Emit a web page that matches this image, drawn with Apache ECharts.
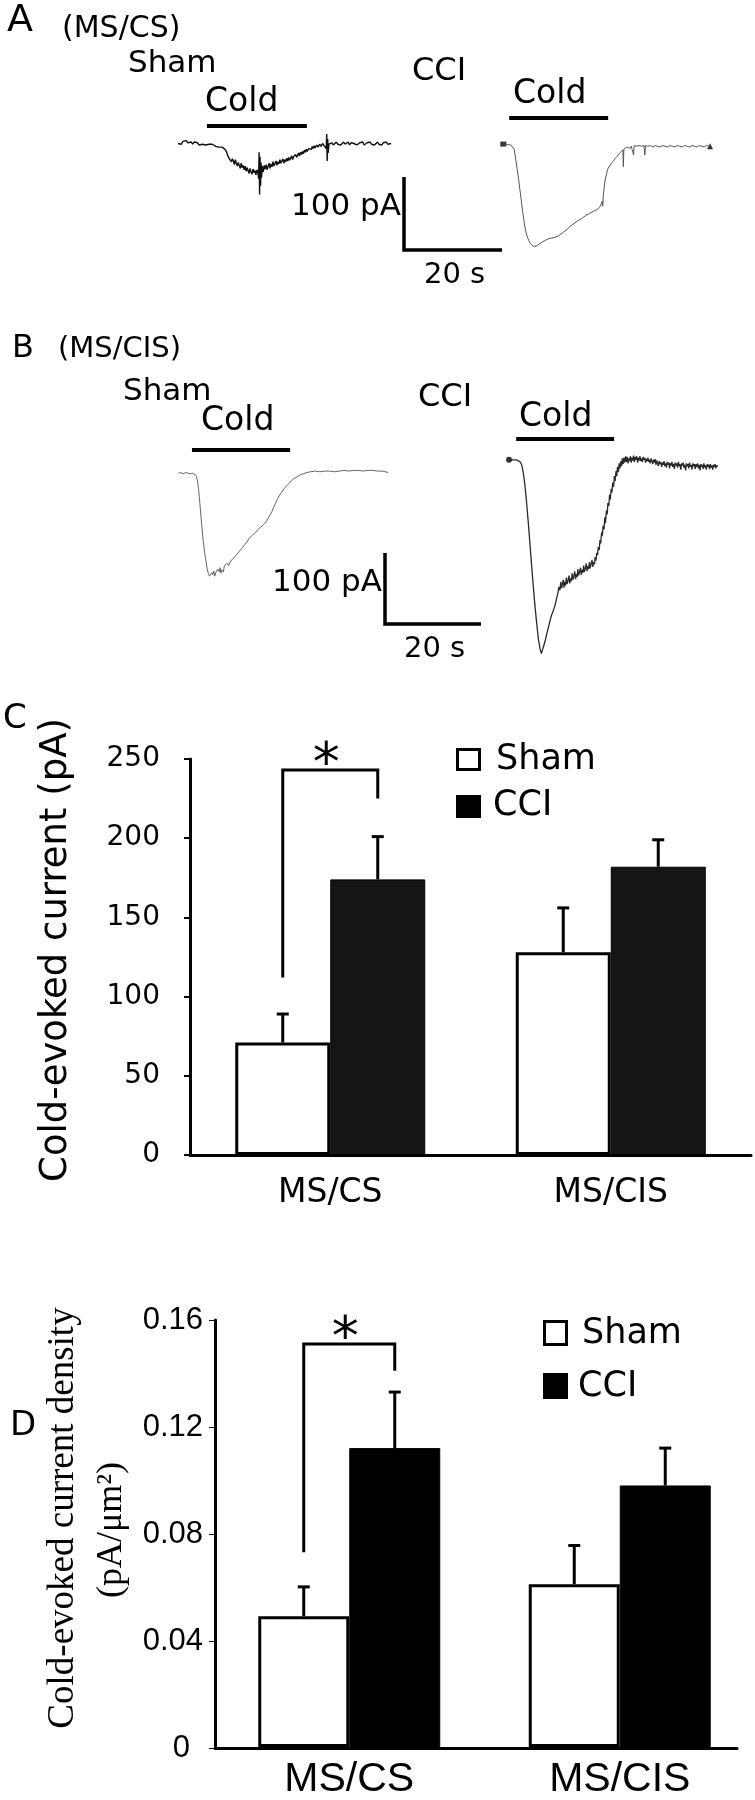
<!DOCTYPE html>
<html><head><meta charset="utf-8">
<script src="https://cdn.jsdelivr.net/npm/echarts@6/dist/echarts.min.js"></script>
<style>html,body{margin:0;padding:0;background:#fff}#c{width:755px;height:1800px}</style>
</head><body><div id="c"></div>
<script>
// ---------------- DATA ----------------
const categories = ['MS/CS', 'MS/CIS'];
const seriesNames = ['Sham', 'CCI'];
// Panel C: cold-evoked current (pA)
const currentTicks = [0, 50, 100, 150, 200, 250];
const currentSham = [71, 128];
const currentShamErr = [18, 28];
const currentCCI = [174, 182];
const currentCCIErr = [27, 17];
const bracketC = [112, 243, 225];          // left foot, top, right foot (pA)
// Panel D: cold-evoked current density (pA/um2)
const densityTicks = [0, 0.04, 0.08, 0.12, 0.16];
const densitySham = [0.049, 0.061];
const densityShamErr = [0.011, 0.0145];
const densityCCI = [0.112, 0.098];
const densityCCIErr = [0.021, 0.014];
const bracketD = [0.073, 0.151, 0.141];
// Panels A/B: traces [time s, current pA]
const traceA_sham = [[0,0],[0.4,2],[0.7,-1],[1.0,3],[1.3,1],[1.7,4],[2.0,1],[2.3,3],[2.7,2],[3.0,-1],[3.3,2],[3.7,0],[4.0,1],[4.3,-2],[4.7,0],[5.0,-1],[5.3,1],[5.7,-2],[6.0,0],[6.3,-1],[6.7,-3],[7.0,-1],[7.3,-2],[7.7,-4],[8.0,-2],[8.3,-5],[8.7,-3],[9.0,-5],[9.3,-4],[9.6,-8],[9.9,-11],[10.1,-16],[10.3,-14],[10.5,-21],[10.7,-19],[10.9,-25],[11.1,-21],[11.3,-24],[11.5,-29],[11.7,-22],[11.9,-27],[12.1,-31],[12.3,-26],[12.5,-30],[12.7,-34],[12.9,-27],[13.1,-33],[13.3,-30],[13.5,-36],[13.7,-31],[13.9,-38],[14.1,-33],[14.3,-35],[14.5,-41],[14.7,-34],[14.9,-39],[15.1,-42],[15.3,-35],[15.5,-40],[15.7,-37],[15.9,-43],[16.1,-36],[16.3,-40],[16.45,-48],[16.55,-12],[16.65,-70],[16.75,-18],[16.85,-58],[16.95,-26],[17.05,-47],[17.2,-31],[17.4,-39],[17.6,-30],[17.8,-35],[18.0,-29],[18.2,-36],[18.4,-31],[18.6,-27],[18.8,-34],[19.0,-28],[19.2,-32],[19.4,-25],[19.6,-31],[19.8,-27],[20.0,-24],[20.2,-30],[20.4,-25],[20.6,-28],[20.8,-22],[21.0,-27],[21.2,-24],[21.4,-21],[21.6,-27],[21.8,-22],[22.0,-25],[22.2,-20],[22.4,-24],[22.6,-19],[22.8,-23],[23.0,-21],[23.2,-17],[23.4,-22],[23.6,-18],[23.8,-20],[24.0,-15],[24.2,-19],[24.4,-16],[24.6,-13],[24.8,-17],[25.0,-12],[25.2,-15],[25.4,-11],[25.6,-14],[25.8,-9],[26.0,-12],[26.2,-8],[26.4,-11],[26.6,-7],[26.8,-9],[27.0,-5],[27.2,-8],[27.4,-4],[27.6,-7],[27.8,-3],[28.0,-6],[28.3,-2],[28.6,-5],[28.9,-1],[29.2,-4],[29.5,0],[29.8,-3],[30.1,-1],[30.25,-7],[30.35,13],[30.45,-24],[30.55,6],[30.65,-13],[30.8,-1],[31.1,-3],[31.4,1],[31.7,-2],[32.0,0],[32.3,2],[32.6,-1],[32.9,1],[33.2,-2],[33.5,0],[33.8,2],[34.1,-1],[34.4,0],[34.7,2],[35.0,-2],[35.3,1],[35.6,-1],[35.9,0],[36.2,2],[36.5,-2],[36.8,0],[37.1,1],[37.4,-1],[37.7,2],[38.0,-2],[38.3,0],[38.6,1],[38.9,-1],[39.2,2],[39.5,-1],[39.8,1],[40.1,-2],[40.4,0],[40.7,2],[41.0,-1],[41.3,1],[41.6,-2],[41.9,1],[42.2,0],[42.5,2],[42.8,-1],[43.1,1],[43.5,0]];
const traceA_cci = [[0,1],[0.5,1],[1.0,0],[1.5,0],[1.9,-1],[2.2,-6],[2.5,-18],[2.8,-32],[3.1,-46],[3.4,-62],[3.7,-78],[4.0,-94],[4.3,-108],[4.6,-119],[4.9,-126],[5.2,-131],[5.5,-135],[5.8,-137],[6.1,-139],[6.4,-141],[6.7,-139],[7.0,-138],[7.3,-136],[7.6,-136],[8.0,-133],[8.4,-132],[8.8,-130],[9.2,-131],[9.6,-128],[10.0,-127],[10.4,-127],[10.8,-125],[11.2,-125],[11.6,-123],[12.0,-121],[12.4,-119],[12.8,-117],[13.2,-115],[13.6,-112],[14.0,-111],[14.4,-108],[14.8,-107],[15.2,-104],[15.6,-103],[16.0,-101],[16.4,-99],[16.8,-97],[17.2,-96],[17.6,-94],[18.0,-93],[18.4,-91],[18.8,-90],[19.1,-89],[19.4,-87],[19.7,-85],[20.0,-81],[20.2,-77],[20.3,-84],[20.4,-70],[20.6,-58],[20.8,-48],[21.0,-42],[21.2,-36],[21.4,-32],[21.7,-29],[22.0,-26],[22.4,-23],[22.8,-19],[23.2,-16],[23.5,-14],[23.8,-11],[24.1,-9],[24.4,-7],[24.5,-30],[24.6,-6],[24.9,-4],[25.2,-3],[25.5,-2],[25.8,-5],[26.1,-2],[26.5,-1],[26.6,-14],[26.7,-1],[27.2,-2],[27.7,-1],[28.2,-2],[28.7,-1],[28.9,-14],[29.0,-1],[29.5,-2],[30.0,-1],[30.5,-3],[31.0,-1],[31.5,-2],[32.0,-3],[32.5,-1],[33.0,-2],[33.5,-3],[34.0,-1],[34.5,-2],[35.0,-3],[35.5,-1],[36.0,-2],[36.5,-3],[37.0,-1],[37.5,-2],[38.0,-3],[38.5,-1],[39.0,-2],[39.5,-3],[40.0,-1],[40.5,-2],[41.0,-3],[41.5,-1],[42.2,-2]];
const traceB_sham = [[0,-1],[0.5,0],[1.0,-2],[1.5,0],[2.0,-1],[2.5,-2],[3.0,-1],[3.4,-2],[3.7,-4],[4.0,-12],[4.2,-22],[4.45,-40],[4.7,-60],[4.95,-79],[5.2,-97],[5.5,-113],[5.8,-126],[6.0,-135],[6.25,-142],[6.5,-146],[6.75,-147],[7.0,-141],[7.2,-144],[7.4,-139],[7.6,-146],[7.8,-141],[8.0,-143],[8.2,-136],[8.5,-140],[8.7,-134],[8.9,-142],[9.1,-137],[9.4,-140],[9.6,-131],[9.9,-133],[10.2,-128],[10.5,-131],[10.8,-126],[11.1,-125],[11.4,-121],[11.7,-122],[12.0,-117],[12.3,-117],[12.6,-112],[12.9,-111],[13.2,-107],[13.5,-106],[13.9,-101],[14.3,-98],[14.7,-93],[15.1,-91],[15.5,-88],[16.0,-85],[16.5,-81],[17.0,-78],[17.5,-75],[18.0,-72],[18.5,-67],[19.0,-61],[19.5,-55],[19.8,-50],[20.2,-44],[20.6,-38],[21.0,-33],[21.5,-28],[22.0,-23],[22.5,-19],[23.0,-16],[23.5,-12],[24.0,-9],[24.5,-7],[25.0,-5],[25.5,-3],[26.0,-2],[26.75,0],[27.5,1],[28.5,2],[29.5,1],[30.5,2],[31.5,2],[32.5,1],[33.5,2],[34.5,3],[35.5,2],[36.5,3],[37.5,3],[38.5,2],[39.5,3],[40.5,3],[41.5,2],[42.5,2],[43.75,0]];
const traceB_cci = [[0,1],[0.4,0],[0.8,1],[1.2,-1],[1.6,1],[1.9,0],[2.3,-2],[2.65,-6],[3.0,-18],[3.3,-34],[3.65,-58],[4.0,-86],[4.35,-116],[4.7,-147],[5.05,-176],[5.4,-204],[5.75,-228],[6.1,-250],[6.45,-265],[6.75,-272],[7.1,-264],[7.5,-255],[7.8,-246],[8.1,-238],[8.5,-227],[8.8,-219],[9.2,-212],[9.6,-204],[9.9,-195],[10.2,-186],[10.4,-178],[10.6,-183],[10.8,-171],[10.95,-180],[11.1,-175],[11.3,-168],[11.45,-179],[11.6,-171],[11.8,-176],[11.95,-165],[12.1,-174],[12.3,-169],[12.5,-162],[12.65,-173],[12.8,-166],[13.0,-170],[13.15,-159],[13.3,-168],[13.5,-163],[13.7,-156],[13.85,-167],[14.0,-160],[14.2,-164],[14.35,-153],[14.5,-162],[14.7,-157],[14.9,-151],[15.05,-161],[15.2,-154],[15.4,-158],[15.55,-148],[15.7,-157],[15.9,-152],[16.1,-145],[16.25,-156],[16.4,-149],[16.6,-153],[16.75,-143],[16.9,-152],[17.1,-146],[17.3,-140],[17.45,-150],[17.6,-143],[17.8,-146],[17.95,-136],[18.1,-141],[18.3,-130],[18.45,-133],[18.6,-122],[18.8,-126],[18.95,-112],[19.1,-117],[19.3,-101],[19.45,-106],[19.6,-92],[19.8,-97],[19.95,-80],[20.1,-88],[20.3,-70],[20.45,-76],[20.6,-60],[20.8,-64],[20.95,-48],[21.1,-55],[21.3,-40],[21.45,-45],[21.6,-31],[21.8,-37],[21.95,-22],[22.1,-29],[22.3,-15],[22.45,-22],[22.6,-9],[22.8,-16],[22.95,-4],[23.1,-11],[23.3,-1],[23.45,-8],[23.6,3],[23.8,-5],[23.95,4],[24.1,-3],[24.3,6],[24.45,-2],[24.6,5],[24.8,-4],[24.95,3],[25.1,-1],[25.3,6],[25.45,-3],[25.6,4],[25.8,0],[25.95,7],[26.1,-2],[26.3,5],[26.45,1],[26.6,6],[26.8,-3],[26.95,4],[27.1,0],[27.3,6],[27.45,-1],[27.6,3],[27.8,-2],[27.95,5],[28.1,1],[28.3,4],[28.45,-3],[28.6,2],[28.8,-1],[28.95,4],[29.1,-2],[29.3,1],[29.45,-4],[29.6,3],[29.8,-1],[29.95,-5],[30.1,1],[30.3,-3],[30.45,2],[30.6,-6],[30.8,0],[30.95,-4],[31.1,-8],[31.3,-1],[31.45,-5],[31.6,-2],[31.8,-9],[31.95,-3],[32.1,-6],[32.3,-1],[32.45,-8],[32.6,-4],[32.8,-10],[32.95,-2],[33.1,-6],[33.3,-3],[33.45,-11],[33.6,-4],[33.8,-7],[33.95,-2],[34.1,-9],[34.3,-5],[34.45,-12],[34.6,-3],[34.8,-7],[34.95,-4],[35.1,-10],[35.3,-2],[35.45,-8],[35.6,-5],[35.8,-13],[35.95,-4],[36.1,-7],[36.3,-3],[36.45,-10],[36.6,-6],[36.8,-14],[36.95,-4],[37.1,-8],[37.3,-5],[37.45,-11],[37.6,-3],[37.8,-9],[37.95,-6],[38.1,-13],[38.3,-4],[38.45,-8],[38.6,-5],[38.8,-12],[38.95,-5],[39.1,-9],[39.3,-4],[39.45,-11],[39.6,-6],[39.8,-14],[39.95,-5],[40.1,-9],[40.3,-6],[40.45,-12],[40.6,-4],[40.8,-10],[40.95,-7],[41.1,-13],[41.3,-5],[41.45,-9],[41.6,-6],[41.8,-12],[41.95,-5],[42.1,-10],[42.3,-7],[42.45,-13],[42.6,-6],[42.8,-9],[42.95,-5],[43.1,-11],[43.3,-7],[43.5,-8]];
// cold stimulus windows [start s, end s]
const coldA_sham = [5.9, 26.3];
const coldA_cci = [1.2, 21.4];
const coldB_sham = [2.85, 23.3];
const coldB_cci = [1.5, 21.9];
// scale bar [s, pA]
const scaleBar = [20, 100];

// ---------------- LAYOUT ----------------
const SANS = '"DejaVu Sans"';
const ARIAL = '"Liberation Sans"';
const SERIF = '"Liberation Serif"';
const T_MAX = 44, I_MIN = -300, I_MAX = 60;
const traceLayout = [
  {ox: 178, oy: 143.5, pxs: 4.9, pxa: 0.73, coldY: 126, color: '#111', w: 1.4},
  {ox: 503.3, oy: 144.8, pxs: 4.9, pxa: 0.73, coldY: 118, color: '#555', w: 1},
  {ox: 178.3, oy: 472.5, pxs: 4.8, pxa: 0.71, coldY: 450, color: '#666', w: 1},
  {ox: 509, oy: 460.5, pxs: 4.8, pxa: 0.71, coldY: 439, color: '#2a2a2a', w: 1.3}
];
const traces = [traceA_sham, traceA_cci, traceB_sham, traceB_cci];
const colds = [coldA_sham, coldA_cci, coldB_sham, coldB_cci];
const scaleCorners = [{grid: 0, x: 404, y: 250}, {grid: 2, x: 385, y: 624}];

const BW_C = 95, BW_D = 91;

const grids = [], xAxes = [], yAxes = [], series = [];
traceLayout.forEach((L, i) => {
  grids.push({left: L.ox, top: L.oy - I_MAX * L.pxa, width: T_MAX * L.pxs, height: (I_MAX - I_MIN) * L.pxa});
  xAxes.push({type: 'value', gridIndex: i, min: 0, max: T_MAX, show: false});
  yAxes.push({type: 'value', gridIndex: i, min: I_MIN, max: I_MAX, show: false});
  series.push({type: 'line', xAxisIndex: i, yAxisIndex: i, data: traces[i], showSymbol: false,
    lineStyle: {color: L.color, width: L.w}, silent: true});
  series.push({type: 'custom', xAxisIndex: i, yAxisIndex: i, data: [colds[i]], silent: true,
    renderItem: (p, api) => {
      const x1 = api.coord([api.value(0), 0])[0], x2 = api.coord([api.value(1), 0])[0];
      return {type: 'line', shape: {x1, y1: L.coldY, x2, y2: L.coldY}, style: {stroke: '#000', lineWidth: 4}};
    }});
});
// start / end markers of recordings
series.push({type: 'scatter', xAxisIndex: 1, yAxisIndex: 1, data: [traceA_cci[0]], symbol: 'rect', symbolSize: [6, 5], itemStyle: {color: '#000'}, silent: true});
series.push({type: 'scatter', xAxisIndex: 1, yAxisIndex: 1, data: [traceA_cci[traceA_cci.length - 1]], symbol: 'triangle', symbolSize: 6, itemStyle: {color: '#000'}, silent: true});
series.push({type: 'scatter', xAxisIndex: 3, yAxisIndex: 3, data: [traceB_cci[0]], symbol: 'circle', symbolSize: 6, itemStyle: {color: '#000'}, silent: true});
// scale bars
scaleCorners.forEach(S => {
  series.push({type: 'custom', xAxisIndex: S.grid, yAxisIndex: S.grid, data: [scaleBar], silent: true,
    renderItem: (p, api) => {
      const sz = api.size([api.value(0), api.value(1)]);
      return {type: 'polyline', shape: {points: [[S.x, S.y - sz[1]], [S.x, S.y], [S.x + sz[0], S.y]]},
        style: {stroke: '#000', lineWidth: 3.5, fill: null}};
    }});
});

// Panel C grid (index 4)
grids.push({left: 190, top: 759, width: 561, height: 396});
xAxes.push({type: 'category', gridIndex: 4, data: categories,
  axisLine: {lineStyle: {color: '#000', width: 3}}, axisTick: {show: false},
  axisLabel: {fontFamily: SANS, fontSize: 33, color: '#000', margin: 22}});
yAxes.push({type: 'value', gridIndex: 4, min: currentTicks[0], max: currentTicks[currentTicks.length - 1],
  interval: currentTicks[1] - currentTicks[0], splitLine: {show: false},
  axisLine: {show: true, lineStyle: {color: '#000', width: 3}},
  axisTick: {show: true, length: 6, lineStyle: {color: '#000', width: 2}},
  axisLabel: {fontFamily: SANS, fontSize: 28, color: '#000', margin: 30}});
// Panel D axis grid (index 5) and bars grid (index 6)
grids.push({left: 215, top: 1320, width: 522, height: 428});
xAxes.push({type: 'category', gridIndex: 5, data: categories, axisLine: {lineStyle: {color: '#000', width: 3}},
  axisTick: {show: false}, axisLabel: {show: false}});
yAxes.push({type: 'value', gridIndex: 5, min: densityTicks[0], max: densityTicks[densityTicks.length - 1],
  interval: densityTicks[1] - densityTicks[0], splitLine: {show: false},
  axisLine: {show: true, lineStyle: {color: '#000', width: 3}},
  axisTick: {show: true, length: 6, lineStyle: {color: '#000', width: 1}},
  axisLabel: {fontFamily: ARIAL, fontSize: 31, color: '#000', margin: 12,
    formatter: v => v === 0 ? '{z|0}' : v.toFixed(2),
    rich: {z: {fontFamily: ARIAL, fontSize: 31, color: '#000', padding: [0, 13, 0, 0]}}}});
grids.push({left: 214, top: 1320, width: 550, height: 428});
xAxes.push({type: 'category', gridIndex: 6, data: categories, axisLine: {show: false}, axisTick: {show: false},
  axisLabel: {fontFamily: ARIAL, fontSize: 41, color: '#000', margin: 12}});
yAxes.push({type: 'value', gridIndex: 6, min: densityTicks[0], max: densityTicks[densityTicks.length - 1], show: false});

function barSeries(ax, name, data, bw, fill, border) {
  return {type: 'bar', name, xAxisIndex: ax, yAxisIndex: ax, data, barWidth: bw, barGap: '0%', silent: true,
    itemStyle: {color: fill, borderColor: '#000', borderWidth: border}};
}
function errSeries(ax, vals, errs, side, bw) {
  return {type: 'custom', xAxisIndex: ax, yAxisIndex: ax, silent: true, z: 5,
    data: vals.map((v, i) => [i, v, errs[i]]),
    renderItem: (p, api) => {
      const c = api.coord([api.value(0), api.value(1)]);
      const t = api.coord([api.value(0), api.value(1) + api.value(2)]);
      const x = c[0] + side * bw / 2;
      return {type: 'group', children: [
        {type: 'line', shape: {x1: x, y1: c[1], x2: x, y2: t[1]}, style: {stroke: '#000', lineWidth: 3}},
        {type: 'line', shape: {x1: x - 6, y1: t[1], x2: x + 6, y2: t[1]}, style: {stroke: '#000', lineWidth: 3}}]};
    }};
}
function bracketSeries(ax, br, bw) {
  return {type: 'custom', xAxisIndex: ax, yAxisIndex: ax, silent: true, z: 5,
    data: [[0, br[0], br[1], br[2]]],
    renderItem: (p, api) => {
      const cx = api.coord([api.value(0), 0])[0];
      const xl = cx - bw / 2, xr = cx + bw / 2;
      const y0 = api.coord([api.value(0), api.value(1)])[1];
      const y1 = api.coord([api.value(0), api.value(2)])[1];
      const y2 = api.coord([api.value(0), api.value(3)])[1];
      return {type: 'group', children: [
        {type: 'polyline', shape: {points: [[xl, y0], [xl, y1], [xr, y1], [xr, y2]]}, style: {stroke: '#000', lineWidth: 3, fill: null}},
        {type: 'text', x: cx - 4, y: y1 - 4, style: {text: '*', font: '54px ' + SANS, fill: '#000', textAlign: 'center', textVerticalAlign: 'middle'}}]};
    }};
}
series.push(barSeries(4, seriesNames[0], currentSham, BW_C, '#fff', 3));
series.push(barSeries(4, seriesNames[1], currentCCI, BW_C, '#151515', 1));
series.push(errSeries(4, currentSham, currentShamErr, -1, BW_C));
series.push(errSeries(4, currentCCI, currentCCIErr, 1, BW_C));
series.push(bracketSeries(4, bracketC, BW_C));
series.push(barSeries(6, seriesNames[0], densitySham, BW_D, '#fff', 3));
series.push(barSeries(6, seriesNames[1], densityCCI, BW_D, '#000', 1));
series.push(errSeries(6, densitySham, densityShamErr, -1, BW_D));
series.push(errSeries(6, densityCCI, densityCCIErr, 1, BW_D));
series.push(bracketSeries(6, bracketD, BW_D));

function txt(text, x, y, size, family, extra) {
  return Object.assign({type: 'text', x, y, silent: true,
    style: {text, font: size + 'px ' + (family || SANS), fill: '#000', textAlign: 'left', textVerticalAlign: 'middle'}}, extra || {});
}
function legendBox(x, y, w, h, filled) {
  return {type: 'rect', silent: true, shape: {x, y, width: w, height: h},
    style: filled ? {fill: '#000'} : {fill: '#fff', stroke: '#000', lineWidth: 3}};
}
const graphic = [
  txt('A', 7, 21, 38), txt('(MS/CS)', 62, 29, 30),
  txt('Sham', 128, 64, 31), txt('CCI', 412, 72, 32),
  txt('Cold', 205, 102, 33), txt('Cold', 513, 94, 33),
  txt('100 pA', 291, 207, 31), txt('20 s', 424, 275, 29),
  txt('B', 12, 349, 32), txt('(MS/CIS)', 58, 349, 29),
  txt('Sham', 123, 392, 31), txt('CCI', 418, 398, 32),
  txt('Cold', 201, 421, 33), txt('Cold', 519, 417, 33),
  txt('100 pA', 272, 583, 31), txt('20 s', 404, 649, 29),
  txt('C', 3, 719, 34),
  {type: 'text', x: 56, y: 950, rotation: Math.PI / 2, silent: true,
    style: {text: 'Cold-evoked current (pA)', font: '37px ' + SANS, fill: '#000', textAlign: 'center', textVerticalAlign: 'middle'}},
  legendBox(457.5, 749.5, 22, 20, false), txt('Sham', 496, 760, 35),
  legendBox(456, 795, 25, 23, true), txt('CCI', 493, 806, 35),
  txt('D', 10, 1426, 34),
  {type: 'text', x: 63, y: 1518, rotation: Math.PI / 2, silent: true,
    style: {text: 'Cold-evoked current density', font: '37px ' + SERIF, fill: '#000', textAlign: 'center', textVerticalAlign: 'middle'}},
  {type: 'text', x: 112, y: 1530, rotation: Math.PI / 2, silent: true,
    style: {text: '(pA/\u03bcm\u00b2)', font: '36px ' + SERIF, fill: '#000', textAlign: 'center', textVerticalAlign: 'middle'}},
  legendBox(544.5, 1321.5, 22, 23, false), txt('Sham', 582, 1334, 35),
  legendBox(543, 1373, 25, 26, true), txt('CCI', 578, 1387, 35)
];

const chart = echarts.init(document.getElementById('c'), null, {renderer: 'canvas', width: 755, height: 1800});
chart.setOption({
  animation: false,
  backgroundColor: '#fff',
  grid: grids, xAxis: xAxes, yAxis: yAxes, series, graphic
});
</script></body></html>
